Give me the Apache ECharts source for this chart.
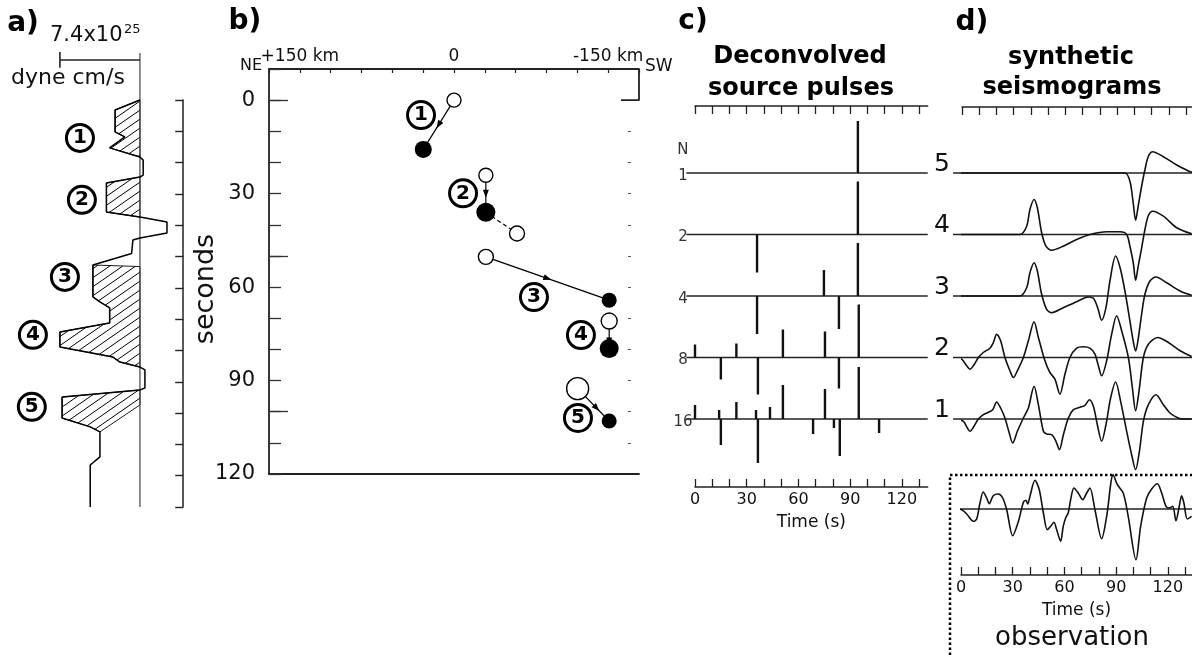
<!DOCTYPE html>
<html>
<head>
<meta charset="utf-8">
<script src="https://cdn.jsdelivr.net/npm/echarts@6/dist/echarts.min.js"></script>
<style>
  html, body { margin: 0; padding: 0; background: #fff; }
  #chart { width: 1192px; height: 655px; }
</style>
</head>
<body>
<div id="chart"></div>
<script>
// ---------- a) moment-rate function: [time (s), rate (1e25 dyne cm/s)] ----------
const momentRate = [
  [0,0],[3.2,2.3],[10.2,2.3],[11.8,1.4],[15.3,2.8],[18.2,0],[19.2,-0.3],[24,-0.3],[24.6,0],
  [26.5,3.1],[35.8,3.1],[37.4,0],[39,-2.5],[42.5,-2.5],[44.1,0],[44.7,0.65],[49,0.77],[49.5,0.93],
  [52.7,4.35],[62.9,4.35],[64.5,3.7],[66.4,2.8],[71.2,2.8],[74.1,7.4],[78.9,7.4],[82.1,2.5],
  [83.7,1.85],[85.3,0],[86.2,-0.46],[92,-0.46],[92.6,0],[94.9,7.2],[101.6,7.2],[104.4,4.6],
  [106,3.7],[114,3.7],[116.6,4.6],[130,4.6]
];
// hatched sub-event areas, same units
const subEvent1 = [[0,0],[3.2,2.3],[10.2,2.3],[11.8,1.4],[15.3,2.8],[18.2,0]];
const subEvent2 = [[24.6,0],[26.5,3.1],[35.8,3.1],[37.4,0]];
const subEvent34 = [[53.2,0],[52.7,4.35],[62.9,4.35],[64.5,3.7],[66.4,2.8],[71.2,2.8],[74.1,7.4],
  [78.9,7.4],[82.1,2.5],[83.7,1.85],[85.3,0]];
const subEvent5 = [[92.6,0],[94.9,7.2],[101.6,7.2],[104.4,4.6],[106,3.7],[97.4,0]];
const scaleBarValue = 7.4;
// event numbers beside the curve: [rate, time, label]
const labelsA = [[5.55,12.1,'1'],[5.37,31.9,'2'],[6.94,56.5,'3'],[9.9,75,'4'],[10,98,'5']];

// ---------- b) sub-event locations: [distance along strike (km), time (s)] ----------
const onsetPts = [[0,0],[-31,24.1],[-31,50.3],[-151,70.9],[-120.3,92.6]];
const centroidPts = [[29.9,15.8],[-31,36],[-151,64.2],[-151,79.7],[-151,103]];
const extraOnset = [[-61.3,42.8]];
const labelsB = [[32.1,4.8,'1'],[-8.8,29.9,'2'],[-77.8,63.2,'3'],[-123.5,75.4,'4'],[-120.6,102,'5']];
const kmLabels = {'150':'+150 km','0':'0','-150':'-150 km'};
const secondLabels = [0,30,60,90,120];
const longTicks = [0,50,100];
const rightTicks = [10,20,30,40,50,60,70,80,90,100,110];

// ---------- c) deconvolved source pulses: [time (s), amplitude] ----------
const pulseRowNames = ['1','2','4','8','16'];
const pulsesN1 = [[94.5,52]];
const pulsesN2 = [[36,-38],[94.5,53]];
const pulsesN4 = [[36,-38],[74.8,26],[83.5,-33],[94.5,53]];
const pulsesN8 = [[0,13],[15,-22],[24,14],[36.5,-37],[51,28],[75.4,26],[83.5,-31],[95,53]];
const pulsesN16 = [[0,14],[14,9],[15,-26],[24,17],[35.4,9],[36.5,-44],[43.5,12],[51,34],
  [68.5,-15],[75.4,30],[80.6,-9],[84,-37],[95,52],[106.8,-14]];

// ---------- d) synthetic seismograms and observation: [time (s), amplitude] ----------
const synthRowNames = ['5','4','3','2','1'];
const synth5 = [[-5,0],[94.5,0],[97.4,-8.3],[99.3,-30],[100.7,-47.3],[102.2,-33],[104.2,-13],
  [106.1,3.3],[108.1,16.7],[110.6,21.3],[116.8,16.3],[124.5,8],[132.3,1.3],[133.4,1]];
const synth4 = [[-5,0],[33.6,0],[37.5,8.3],[39.4,25],[41.8,35],[43.7,26.7],[46.2,1.7],[48.7,-11.7],
  [52,-15.7],[58.7,-11.7],[66.5,-5],[74.3,0],[83.9,2.7],[91.7,2.7],[95.5,0],[97.4,-11.7],[99.3,-28],
  [100.7,-45.7],[102.2,-31.7],[104.2,-13.3],[106.1,5],[108.1,19],[110.6,23.3],[116.8,18.3],
  [124.5,6.7],[133.2,0.7]];
const synth3 = [[-5,0],[33.6,0],[37.5,8.3],[39.4,23.3],[41.8,33.3],[43.7,25],[46.2,1.7],[49.1,-13.3],
  [52,-16.7],[58.7,-11.7],[66.5,-5.7],[73.3,-1],[76.2,-2.3],[78.7,-11.7],[81,-24.3],[83.5,-11.7],
  [85.8,15],[89.1,40],[91.7,28.3],[94.5,5],[97.4,-25],[99.3,-45],[100.7,-55],[102.2,-43],
  [104.2,-18],[106.1,1.7],[109,15],[112.5,19],[118.7,13.3],[126.5,5],[133.2,0.7]];
const synth2 = [[-4.1,0],[-0.2,-1.7],[2.7,-8.3],[4.6,-11.7],[6.6,-8.3],[9.5,0],[12.4,5],[16.2,9.3],
  [18.2,15],[20.1,23.3],[22.4,16.7],[24.9,0],[27.8,-13.3],[29.8,-20],[32.1,-13.3],[35.6,0],
  [38.5,16.7],[41.8,35.7],[44.3,20],[48.1,-3.3],[51,-15],[53.9,-21.7],[56.8,-36.7],[59.7,-16.7],
  [62.6,0],[66.5,9.3],[70.4,10.7],[74.2,9.3],[77.1,3.3],[79.1,-8.3],[81,-18.3],[83.9,-3.3],
  [86.8,23.3],[89.7,41.7],[92.6,26.7],[96.5,0],[98.8,-30],[100.7,-53.3],[102.7,-33.3],[105.2,0],
  [108.1,13.3],[113.5,20],[119.7,15],[126.5,6.7],[133.2,1]];
const synth1 = [[-3.1,0],[0.8,-2.3],[3.1,-9],[4.6,-12.3],[6.6,-8.3],[9.5,0],[12.4,4.3],[15.3,6.7],
  [17.8,9.3],[20.1,17],[22.4,11],[24.9,1],[27.4,-14],[29.4,-24],[32.1,-12.3],[35.6,1],[38.5,11],
  [41.8,32.7],[44.3,14.3],[47.2,-12.3],[49.1,-15],[52,-15.7],[54.5,-22.3],[56.5,-30.7],[58.8,-15.7],
  [61.7,1],[64.6,9.3],[68.4,11.7],[71.3,13.7],[73.9,19.3],[76.2,12.7],[78.5,-5.7],[81,-22.3],
  [83.5,-5.7],[86.2,21],[89.1,37],[92,17.7],[95.5,-12.3],[98.4,-35.7],[100.7,-50.7],[102.9,-32.3],
  [105.2,-2.3],[108.1,14.3],[112.5,24.3],[116.8,14.3],[120.6,6],[125.4,1],[128.3,0],[133.2,0]];
const observed = [[-3.5,0],[0.4,-0.7],[3.3,-5],[7.2,-12.3],[9.1,-10],[11,6],[12.9,17],[14.9,11],
  [16.4,5.3],[18.7,13.3],[21.7,15],[24.2,11],[26.5,-0.7],[30,-26.7],[33.3,-12.3],[36.2,6.7],
  [37.7,8.7],[38.7,5],[40,12.7],[42.9,28.7],[45.4,19.3],[47.8,-4],[50.1,-20.7],[52,-17.3],
  [53.9,-13.3],[55.5,-20.7],[57.8,-32.3],[59.3,-17.3],[60.9,-8],[62.2,-4],[63.6,9.3],[65.5,21],
  [68,16],[70.6,9.3],[72.9,16],[74.8,21],[77.7,-0.7],[81.6,-29.7],[84.5,-7.3],[88.3,34.3],
  [90.7,24.3],[94.1,16],[97,-7.3],[101.5,-50.7],[104.2,-17.3],[107.7,11],[110.6,20],[113.9,25.3],
  [116.4,16],[118.9,2.7],[120.8,1],[122.8,2.7],[124.7,-11.7],[126.6,2.7],[128,13.3],[129.3,6],
  [131.3,-10],[133.8,-7.3]];
const timeTicks = [0,10,20,30,40,50,60,70,80,90,100,110,120,130];
const timeLabels = [0,30,60,90,120];

// ---------- layout / style constants ----------
const FONT = 'DejaVu Sans';
const INK = '#111';
const ROW_TOP = 314, ROW_STEP = 61.5, OBS_BASE = 66;
const rowBase = i => ROW_TOP - i * ROW_STEP;
const onsetSize = [14, 14, 15, 16, 22];
const extraOnsetSize = [15];
const centroidSize = [17, 19, 15, 19, 15];
const arrowFrac = [0.5, 0.5, 0.5, 0.75, 0.6];

// diagonal hatching tile
function hatchTile() {
  const w = 13, h = 9;
  const c = document.createElement('canvas');
  c.width = w; c.height = h;
  const g = c.getContext('2d');
  g.strokeStyle = '#000'; g.lineWidth = 1;
  g.beginPath();
  g.moveTo(-w, 2 * h); g.lineTo(2 * w, -h);
  g.moveTo(-2 * w, 2 * h); g.lineTo(w, -h);
  g.moveTo(0, 2 * h); g.lineTo(3 * w, -h);
  g.stroke();
  return c;
}
const hatchFill = { image: hatchTile(), repeat: 'repeat' };

const chart = echarts.init(document.getElementById('chart'), null, { renderer: 'canvas' });

const hiddenX = (gi, min, max, inverse) => ({ type: 'value', gridIndex: gi, min, max, inverse: !!inverse, show: false });
const hiddenY = (gi, min, max) => ({ type: 'value', gridIndex: gi, min, max, show: false });

function timeAxis(gi, max, pos, withLabels) {
  return {
    type: 'value', gridIndex: gi, min: 0, max, position: pos,
    axisLine: { show: true, onZero: false, lineStyle: { color: '#222', width: 1.5 } },
    axisTick: { show: true, inside: true, length: 8, customValues: timeTicks, lineStyle: { color: '#222', width: 1.3 } },
    axisLabel: withLabels ? { show: true, customValues: timeLabels, fontSize: 16, color: INK, margin: 5, fontFamily: FONT } : { show: false },
    splitLine: { show: false },
    name: withLabels ? 'Time (s)' : '', nameLocation: 'middle', nameGap: 27,
    nameTextStyle: { fontSize: 17, color: INK, fontFamily: FONT }
  };
}

const lineStyleSeries = (xi, yi, data, color, width, extra) => Object.assign({
  type: 'line', xAxisIndex: xi, yAxisIndex: yi, data, symbol: 'none', clip: false, silent: true,
  lineStyle: { color, width }, z: 3
}, extra || {});

function spikeData() {
  const rows = [pulsesN1, pulsesN2, pulsesN4, pulsesN8, pulsesN16];
  const out = [];
  rows.forEach((r, i) => r.forEach(([t, a]) => out.push([t, rowBase(i), a])));
  return out;
}

function rowLabelSeries(xi, yi, names, t, dy, size, color) {
  return {
    type: 'custom', xAxisIndex: xi, yAxisIndex: yi, silent: true, z: 5,
    data: names.map((n, i) => [t, rowBase(i)]),
    renderItem(params, api) {
      const p = api.coord([api.value(0), api.value(1)]);
      return { type: 'text', x: p[0], y: p[1] + dy,
        style: { text: names[params.dataIndex], fontSize: size, fontFamily: FONT, fill: color,
          align: 'center', verticalAlign: 'middle' } };
    }
  };
}

function baselineSeries(xi, yi, n, t0, t1, color, width) {
  return {
    type: 'custom', xAxisIndex: xi, yAxisIndex: yi, silent: true, z: 2,
    data: Array.from({ length: n }, (_, i) => [t0, rowBase(i)]),
    renderItem(params, api) {
      const a = api.coord([t0, api.value(1)]);
      const b = api.coord([t1, api.value(1)]);
      return { type: 'line', shape: { x1: a[0], y1: a[1], x2: b[0], y2: b[1] },
        style: { stroke: color, lineWidth: width } };
    }
  };
}

const circledNumber = (xi, yi, data) => ({
  type: 'scatter', xAxisIndex: xi, yAxisIndex: yi, silent: true, z: 6, clip: false,
  data: data.map(d => ({ value: [d[0], d[1]], name: d[2] })),
  symbol: 'circle', symbolSize: 27,
  itemStyle: { color: '#fff', borderColor: '#000', borderWidth: 3, opacity: 1 },
  label: { show: true, position: 'inside', formatter: p => p.name, fontSize: 20, fontWeight: 'bold',
    color: '#000', fontFamily: FONT }
});

const option = {
  animation: false,
  textStyle: { fontFamily: FONT },
  grid: [
    { left: 21, top: 100, width: 162.2, height: 407, outerBoundsMode: 'none' },   // a
    { left: 269, top: 69, width: 370, height: 405, outerBoundsMode: 'none' },     // b
    { left: 695, top: 106, width: 232.7, height: 381, outerBoundsMode: 'none' },  // c
    { left: 962, top: 107, width: 230, height: 380, outerBoundsMode: 'none' },    // d synthetics
    { left: 961, top: 475, width: 231, height: 100, outerBoundsMode: 'none' }     // d observation
  ],
  xAxis: [
    hiddenX(0, -4, 11, true),
    { // b, along-strike distance (top)
      type: 'value', gridIndex: 1, min: -180, max: 180, interval: 30, inverse: true, position: 'top',
      axisLine: { show: true, onZero: false, lineStyle: { color: '#222', width: 1.8 } },
      axisTick: { show: true, inside: true, length: 4, lineStyle: { color: '#222', width: 1.2 } },
      axisLabel: { show: true, margin: 4, fontSize: 17, color: INK, fontFamily: FONT,
        formatter: v => kmLabels[String(v)] || '' },
      splitLine: { show: false }
    },
    { // b, bottom frame line
      type: 'value', gridIndex: 1, min: -180, max: 180, inverse: true, position: 'bottom',
      axisLine: { show: true, onZero: false, lineStyle: { color: '#222', width: 1.8 } },
      axisTick: { show: false }, axisLabel: { show: false }, splitLine: { show: false }
    },
    timeAxis(2, 135, 'top', false),
    timeAxis(2, 135, 'bottom', true),
    timeAxis(3, 133.4, 'top', false),
    timeAxis(4, 134, 'bottom', true)
  ],
  yAxis: [
    { // a, time
      type: 'value', gridIndex: 0, min: 0, max: 130, interval: 10, inverse: true, position: 'right',
      axisLine: { show: true, onZero: false, lineStyle: { color: '#222', width: 1.5 } },
      axisTick: { show: true, inside: true, length: 8, lineStyle: { color: '#222', width: 1.4 } },
      axisLabel: { show: false }, splitLine: { show: false }
    },
    { // b, seconds
      type: 'value', gridIndex: 1, min: -10, max: 120, interval: 10, inverse: true, position: 'left',
      axisLine: { show: true, onZero: false, lineStyle: { color: '#222', width: 1.8 } },
      axisTick: { show: true, inside: true, length: 12, lineStyle: { color: '#333', width: 1.3 } },
      axisLabel: { show: true, margin: 14, fontSize: 21, color: INK, fontFamily: FONT,
        formatter: v => secondLabels.indexOf(v) >= 0 ? String(v) : '' },
      splitLine: { show: false }
    },
    { // b, longer ticks every 50 s
      type: 'value', gridIndex: 1, min: -10, max: 120, inverse: true, position: 'left',
      axisLine: { show: false, onZero: false },
      axisTick: { show: true, inside: true, length: 19, customValues: longTicks, lineStyle: { color: '#333', width: 1.3 } },
      axisLabel: { show: false }, splitLine: { show: false }
    },
    { // b, faint right-hand ticks
      type: 'value', gridIndex: 1, min: -10, max: 120, inverse: true, position: 'right', offset: -11,
      axisLine: { show: false, onZero: false },
      axisTick: { show: true, inside: false, length: 3, customValues: rightTicks, lineStyle: { color: '#555', width: 1 } },
      axisLabel: { show: false }, splitLine: { show: false }
    },
    hiddenY(2, 0, 381),
    hiddenY(3, 0, 380),
    hiddenY(4, 0, 100)
  ],
  series: [
    // ---- a ----
    {
      type: 'custom', xAxisIndex: 0, yAxisIndex: 0, silent: true, z: 1,
      data: [[0, 0], [0, 0], [0, 0], [0, 0]],
      renderItem(params, api) {
        const poly = [subEvent1, subEvent2, subEvent34, subEvent5][params.dataIndex];
        return { type: 'polygon', shape: { points: poly.map(([t, a]) => api.coord([a, t])) },
          style: { fill: hatchFill, stroke: '#000', lineWidth: 0.9 } };
      }
    },
    lineStyleSeries(0, 0, [[0, -15], [0, 130]], '#444', 1.2),
    lineStyleSeries(0, 0, [[0, -12.8], [scaleBarValue, -12.8]], '#222', 1.6),
    lineStyleSeries(0, 0, [[scaleBarValue, -15.3], [scaleBarValue, -10.3]], '#222', 1.6),
    lineStyleSeries(0, 0, momentRate.map(([t, a]) => [a, t]), '#000', 1.5, { z: 4 }),
    circledNumber(0, 0, labelsA),

    // ---- b ----
    lineStyleSeries(1, 1, [[-180, -10], [-180, 0], [-162.5, 0]], '#222', 1.8),
    {
      type: 'custom', xAxisIndex: 1, yAxisIndex: 1, silent: true, z: 3,
      data: onsetPts.map((p, i) => [p[0], p[1], centroidPts[i][0], centroidPts[i][1], arrowFrac[i], 0])
        .concat([[centroidPts[1][0], centroidPts[1][1], extraOnset[0][0], extraOnset[0][1], 0, 1]]),
      renderItem(params, api) {
        const a = api.coord([api.value(0), api.value(1)]);
        const b = api.coord([api.value(2), api.value(3)]);
        const f = api.value(4), dashed = api.value(5);
        const kids = [{ type: 'line', shape: { x1: a[0], y1: a[1], x2: b[0], y2: b[1] },
          style: { stroke: '#000', lineWidth: 1.2, lineDash: dashed ? [4, 3] : null } }];
        if (f > 0) {
          const dx = b[0] - a[0], dy = b[1] - a[1], L = Math.hypot(dx, dy);
          const ux = dx / L, uy = dy / L;
          const tip = [a[0] + dx * f + ux * 4, a[1] + dy * f + uy * 4];
          const bk = [tip[0] - ux * 8, tip[1] - uy * 8];
          kids.push({ type: 'polygon', shape: { points: [tip, [bk[0] - uy * 3, bk[1] + ux * 3], [bk[0] + uy * 3, bk[1] - ux * 3]] },
            style: { fill: '#000' } });
        }
        return { type: 'group', children: kids };
      }
    },
    {
      type: 'scatter', xAxisIndex: 1, yAxisIndex: 1, silent: true, z: 4,
      data: onsetPts.map((p, i) => ({ value: p, symbolSize: onsetSize[i] }))
        .concat(extraOnset.map((p, i) => ({ value: p, symbolSize: extraOnsetSize[i] }))),
      symbol: 'circle',
      itemStyle: { color: '#fff', borderColor: '#000', borderWidth: 1.4, opacity: 1 }
    },
    {
      type: 'scatter', xAxisIndex: 1, yAxisIndex: 1, silent: true, z: 4,
      data: centroidPts.map((p, i) => ({ value: p, symbolSize: centroidSize[i] })),
      symbol: 'circle', itemStyle: { color: '#000', opacity: 1 }
    },
    circledNumber(1, 1, labelsB),

    // ---- c ----
    baselineSeries(3, 4, 5, -5, 135, '#222', 1.5),
    {
      type: 'custom', xAxisIndex: 3, yAxisIndex: 4, silent: true, z: 3,
      data: spikeData(),
      renderItem(params, api) {
        const a = api.coord([api.value(0), api.value(1)]);
        const b = api.coord([api.value(0), api.value(1) + api.value(2)]);
        return { type: 'line', shape: { x1: a[0], y1: a[1], x2: b[0], y2: b[1] },
          style: { stroke: '#111', lineWidth: 2.4 } };
      }
    },
    rowLabelSeries(3, 4, pulseRowNames, -7, 3, 15, '#333'),
    {
      type: 'custom', xAxisIndex: 3, yAxisIndex: 4, silent: true, z: 5,
      data: [[-7, rowBase(0)]],
      renderItem(params, api) {
        const p = api.coord([api.value(0), api.value(1)]);
        return { type: 'text', x: p[0], y: p[1] - 23,
          style: { text: 'N', fontSize: 15, fontFamily: FONT, fill: '#333', align: 'center', verticalAlign: 'middle' } };
      }
    },

    // ---- d ----
    baselineSeries(5, 5, 5, -5.2, 133.4, '#222', 1.3),
    ...[synth5, synth4, synth3, synth2, synth1].map((tr, i) =>
      lineStyleSeries(5, 5, tr.map(([t, a]) => [t, rowBase(i) + a]), '#111', 1.6, { smooth: 0.3, clip: false, z: 4 })),
    rowLabelSeries(5, 5, synthRowNames, -11.6, -9, 25, '#111'),
    lineStyleSeries(6, 6, [[-4.6, OBS_BASE], [134, OBS_BASE]], '#222', 1.3),
    lineStyleSeries(6, 6, observed.map(([t, a]) => [t, OBS_BASE + a]), '#111', 1.6, { smooth: 0.3, z: 4 })
  ],
  graphic: [
    { type: 'text', x: 23, y: 24, style: { text: 'a)', fontSize: 28, fontWeight: 'bold', fontFamily: FONT, fill: '#000', align: 'center', verticalAlign: 'middle' } },
    { type: 'text', x: 245, y: 22, style: { text: 'b)', fontSize: 28, fontWeight: 'bold', fontFamily: FONT, fill: '#000', align: 'center', verticalAlign: 'middle' } },
    { type: 'text', x: 693, y: 22, style: { text: 'c)', fontSize: 28, fontWeight: 'bold', fontFamily: FONT, fill: '#000', align: 'center', verticalAlign: 'middle' } },
    { type: 'text', x: 972, y: 23, style: { text: 'd)', fontSize: 28, fontWeight: 'bold', fontFamily: FONT, fill: '#000', align: 'center', verticalAlign: 'middle' } },
    { type: 'text', x: 50, y: 36, style: { text: '7.4x10', fontSize: 21, fontFamily: FONT, fill: INK, align: 'left', verticalAlign: 'middle' } },
    { type: 'text', x: 124, y: 30, style: { text: '25', fontSize: 13, fontFamily: FONT, fill: INK, align: 'left', verticalAlign: 'middle' } },
    { type: 'text', x: 68, y: 78, style: { text: 'dyne cm/s', fontSize: 22, fontFamily: FONT, fill: INK, align: 'center', verticalAlign: 'middle' } },
    { type: 'text', x: 262, y: 66, style: { text: 'NE', fontSize: 16, fontFamily: FONT, fill: INK, align: 'right', verticalAlign: 'middle' } },
    { type: 'text', x: 645, y: 67, style: { text: 'SW', fontSize: 17, fontFamily: FONT, fill: INK, align: 'left', verticalAlign: 'middle' } },
    { type: 'text', x: 206, y: 289, rotation: Math.PI / 2,
      style: { text: 'seconds', fontSize: 27, fontFamily: FONT, fill: INK, align: 'center', verticalAlign: 'middle' } },
    { type: 'text', x: 800, y: 57, style: { text: 'Deconvolved', fontSize: 24, fontWeight: 'bold', fontFamily: FONT, fill: '#000', align: 'center', verticalAlign: 'middle' } },
    { type: 'text', x: 801, y: 89, style: { text: 'source pulses', fontSize: 24, fontWeight: 'bold', fontFamily: FONT, fill: '#000', align: 'center', verticalAlign: 'middle' } },
    { type: 'text', x: 1071, y: 58, style: { text: 'synthetic', fontSize: 24, fontWeight: 'bold', fontFamily: FONT, fill: '#000', align: 'center', verticalAlign: 'middle' } },
    { type: 'text', x: 1072, y: 88, style: { text: 'seismograms', fontSize: 24, fontWeight: 'bold', fontFamily: FONT, fill: '#000', align: 'center', verticalAlign: 'middle' } },
    { type: 'text', x: 1072, y: 638, style: { text: 'observation', fontSize: 26, fontFamily: FONT, fill: INK, align: 'center', verticalAlign: 'middle' } },
    { type: 'polyline', shape: { points: [[950, 655], [950, 475], [1192, 475]] },
      style: { stroke: '#000', lineWidth: 2.5, lineDash: [2.5, 2.5], fill: null } }
  ]
};

chart.setOption(option);
</script>
</body>
</html>
